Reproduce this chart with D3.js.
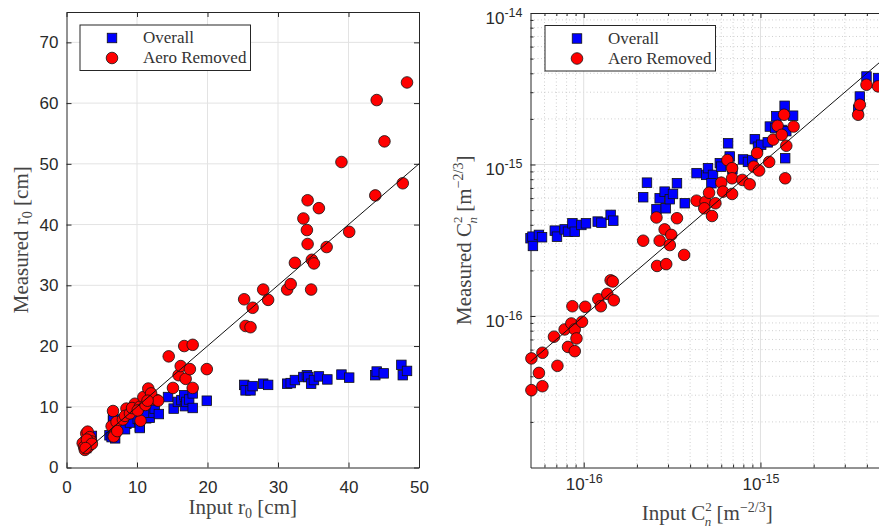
<!DOCTYPE html>
<meta charset="utf-8">
<style>
    body { margin: 0; background: #fff; }
    svg { display: block; }
    .tick text { font-family: "Liberation Sans", Arial, sans-serif; font-size: 17px; fill: #2a2a2a; }
    .domain { stroke: #262626; }
    .tick line { stroke: #262626; }
    .lbl { font-family: "Liberation Serif", "Times New Roman", serif; font-size: 21px; fill: #444; }
    .leg { font-family: "Liberation Serif", "Times New Roman", serif; font-size: 17px; fill: #333; }
</style>
<body>
<script src="https://cdnjs.cloudflare.com/ajax/libs/d3/7.8.5/d3.min.js"></script>
<script>
// ---- data ----
// left panel: Input r0 [cm] vs Measured r0 [cm]
var r0Overall = [
    [2.5,3.6],[2.7,4.2],[2.9,4.6],[3.1,4.0],[3.3,4.9],[3.5,4.4],[2.8,3.2],[3.6,5.2],
    [6.1,5.3],[6.4,5.0],[6.6,5.6],[6.9,4.8],[6.6,7.7],[6.6,8.1],[7.1,6.4],[7.6,7.9],[8.0,6.9],[8.5,7.2],[8.3,6.3],
    [9.4,7.9],[9.0,7.4],[10.1,8.0],[10.4,6.7],[10.4,6.5],[11.3,8.1],[11.8,8.2],[12.2,9.0],[12.5,9.7],[13.1,8.8],[11.0,9.0],
    [14.4,11.6],[15.2,9.7],[15.8,10.8],[16.3,11.1],[16.7,11.9],[16.8,10.1],[17.0,10.8],[17.4,11.2],[17.9,12.2],[17.9,9.8],[19.9,11.0],
    [25.2,13.6],[25.4,12.7],[26.1,12.7],[26.4,13.4],[27.9,13.8],[28.6,13.6],
    [31.3,13.8],[31.8,13.9],[32.4,14.4],[33.6,14.9],[34.1,15.2],[34.3,14.9],[34.7,13.8],[35.1,14.4],[35.8,15.0],[37.0,14.5],
    [39.0,15.3],[40.1,14.8],[43.8,15.2],[44.0,15.8],[45.0,15.5],[47.5,16.9],[47.7,15.2],[48.3,15.9]
];
var r0AeroRemoved = [
    [2.3,4.0],[2.5,3.4],[2.6,2.9],[2.8,5.6],[3.0,5.9],[3.1,3.4],[3.3,5.0],[3.5,4.3],[2.9,4.6],[3.6,3.9],[2.7,3.2],
    [6.4,6.8],[6.6,9.3],[6.9,5.6],[7.1,7.5],[6.7,5.1],[7.2,6.0],[8.0,7.9],[8.5,9.7],[8.3,8.5],[9.0,8.9],[9.7,10.5],[9.3,9.8],
    [10.4,10.0],[10.5,7.7],[10.9,11.6],[10.1,9.4],[11.2,10.3],[11.6,13.0],[12.2,11.2],[12.8,11.1],[12.0,12.2],[13.0,11.0],[11.5,11.0],
    [14.5,18.3],[15.1,13.1],[15.9,15.2],[16.2,16.7],[16.7,20.0],[16.9,14.6],[17.5,16.2],[17.9,20.2],[17.9,13.1],[19.9,16.2],
    [25.2,27.7],[25.4,23.3],[26.1,23.1],[26.4,26.3],[27.9,29.3],[28.6,27.6],
    [31.3,29.3],[31.8,30.2],[32.4,33.7],[33.6,41.0],[34.1,39.1],[34.2,36.8],[34.2,44.0],[34.7,29.3],[34.8,34.2],[35.1,33.6],[35.8,42.7],[36.9,36.3],
    [39.0,50.3],[40.1,38.8],[43.8,44.8],[44.0,60.5],[45.1,53.7],[47.7,46.8],[48.3,63.4]
];
var r0Line = [2.3, 50];
var r0Ticks = [0, 10, 20, 30, 40, 50];
var r0YTicks = [0, 10, 20, 30, 40, 50, 60, 70];

// right panel: Input Cn2 vs Measured Cn2 [m^-2/3]
var cnOverall = [
    [5.0e-17,3.26e-16],[5.13e-17,3.34e-16],[5.16e-17,2.9e-16],[5.58e-17,3.43e-16],[5.81e-17,3.31e-16],[6.86e-17,3.66e-16],
    [7.06e-17,3.34e-16],[7.8e-17,3.73e-16],[8.15e-17,3.6e-16],[8.63e-17,4.09e-16],[8.9e-17,3.6e-16],[9.7e-17,3.99e-16],
    [1.03e-16,4.09e-16],[1.2e-16,4.2e-16],[1.26e-16,4.13e-16],[1.42e-16,4.65e-16],[1.47e-16,4.26e-16],
    [2.17e-16,6.08e-16],[2.28e-16,7.59e-16],[2.58e-16,5.07e-16],[2.69e-16,5.98e-16],[2.87e-16,6.62e-16],[2.91e-16,5.14e-16],
    [3.07e-16,5.9e-16],[3.2e-16,6.39e-16],[3.37e-16,7.52e-16],[3.73e-16,5.55e-16],
    [4.35e-16,8.77e-16],[4.94e-16,8.54e-16],[5.05e-16,9.46e-16],[5.39e-16,8.54e-16],[5.28e-16,7.52e-16],[5.89e-16,1.02e-15],
    [6.0e-16,9.68e-16],[6.56e-16,1.38e-15],[6.7e-16,1.13e-15],[6.94e-16,9.3e-16],[7.97e-16,1.08e-15],[8.5e-16,1.04e-15],
    [9.0e-16,1.07e-15],[9.29e-16,1.47e-15],[9.69e-16,1.31e-15],[1.01e-15,1.35e-15],[1.1e-15,1.4e-15],[1.13e-15,1.78e-15],
    [1.21e-15,1.74e-15],[1.23e-15,2.08e-15],[1.32e-15,1.69e-15],[1.37e-15,2.44e-15],[1.38e-15,1.1e-15],[1.40e-15,1.66e-15],
    [1.53e-15,2.1e-15],
    [3.57e-15,2.3e-15],[3.65e-15,2.81e-15],[3.98e-15,3.81e-15],[4.63e-15,3.72e-15]
];
var cnAeroRemoved = [
    [5.06e-17,5.25e-17],[5.84e-17,5.72e-17],[5.58e-17,4.21e-17],[7.1e-17,4.69e-17],[5.06e-17,3.24e-17],[5.84e-17,3.44e-17],
    [6.79e-17,7.3e-17],[7.8e-17,8.15e-17],[8.63e-17,1.16e-16],[8.51e-17,8.93e-17],[8.9e-17,8.15e-17],[9.1e-17,7.11e-17],
    [8.15e-17,6.25e-17],[8.9e-17,5.86e-17],[9.78e-17,9.16e-17],[1.02e-16,1.15e-16],[1.21e-16,1.29e-16],[1.25e-16,1.16e-16],
    [1.36e-16,1.4e-16],[1.48e-16,1.27e-16],[1.42e-16,1.72e-16],[1.46e-16,1.69e-16],
    [2.17e-16,3.14e-16],[2.69e-16,3.14e-16],[2.6e-16,2.14e-16],[2.93e-16,2.2e-16],[2.58e-16,4.47e-16],[2.87e-16,3.73e-16],
    [3.13e-16,3.43e-16],[3.37e-16,4.42e-16],[3.07e-16,2.94e-16],[3.7e-16,2.53e-16],
    [4.35e-16,5.77e-16],[4.89e-16,5.68e-16],[4.81e-16,5.14e-16],[5.12e-16,6.51e-16],[5.32e-16,4.57e-16],[5.56e-16,5.55e-16],
    [6.0e-16,7.59e-16],[6.14e-16,6.62e-16],[6.5e-16,1.07e-15],[6.91e-16,9.46e-16],[6.91e-16,8.11e-16],[6.91e-16,6.39e-16],
    [7.9e-16,7.91e-16],[8.69e-16,7.41e-16],[9.16e-16,9.68e-16],[9.57e-16,1.19e-15],[9.82e-16,9.12e-16],[1.12e-15,1.04e-15],
    [1.18e-15,1.46e-15],[1.25e-15,1.8e-15],[1.32e-15,1.57e-15],[1.36e-15,2.13e-15],[1.4e-15,1.33e-15],[1.54e-15,1.78e-15],
    [1.38e-15,8.11e-16],
    [3.57e-15,2.13e-15],[3.65e-15,2.48e-15],[3.98e-15,3.36e-15],[4.63e-15,3.28e-15]
];
var cnLine = [5e-17, 5e-15];
var cnXTicks = [1e-16, 1e-15];
var cnYTicks = [1e-16, 1e-15, 1e-14];

var seriesNames = ["Overall", "Aero Removed"];

var width = 879, height = 529;
var svg = d3.select("body").append("svg")
    .attr("width", width)
    .attr("height", height);

var sq = 9.5, rad = 5.8;

function drawSquares(g, data, x, y) {
    g.selectAll("rect.pt").data(data).enter().append("rect")
        .attr("class", "pt")
        .attr("x", function(d) { return x(d[0]) - sq / 2; })
        .attr("y", function(d) { return y(d[1]) - sq / 2; })
        .attr("width", sq).attr("height", sq)
        .attr("fill", "#0000ff").attr("stroke", "#111").attr("stroke-width", 0.8);
}
function drawCircles(g, data, x, y) {
    g.selectAll("circle.pt").data(data).enter().append("circle")
        .attr("class", "pt")
        .attr("cx", function(d) { return x(d[0]); })
        .attr("cy", function(d) { return y(d[1]); })
        .attr("r", rad)
        .attr("fill", "#ff0000").attr("stroke", "#111").attr("stroke-width", 0.8);
}
function legend(g, x0, y0) {
    g.append("rect").attr("x", x0).attr("y", y0).attr("width", 170.5).attr("height", 45.5)
        .attr("fill", "#fff").attr("stroke", "#262626").attr("stroke-width", 1);
    g.append("rect").attr("x", x0 + 32 - sq / 2).attr("y", y0 + 13 - sq / 2)
        .attr("width", sq).attr("height", sq)
        .attr("fill", "#0000ff").attr("stroke", "#111").attr("stroke-width", 0.8);
    g.append("circle").attr("cx", x0 + 32).attr("cy", y0 + 33).attr("r", rad)
        .attr("fill", "#ff0000").attr("stroke", "#111").attr("stroke-width", 0.8);
    g.append("text").attr("class", "leg").attr("x", x0 + 63).attr("y", y0 + 18).text(seriesNames[0]);
    g.append("text").attr("class", "leg").attr("x", x0 + 63).attr("y", y0 + 38).text(seriesNames[1]);
}
// C_n^2 [m^-2/3] label with super/subscripts
function cnLabel(t, prefix) {
    t.append("tspan").text(prefix + "C");
    t.append("tspan").attr("dy", -9).attr("font-size", 13).text("2");
    t.append("tspan").attr("dx", -7).attr("dy", 15).attr("font-size", 13).attr("font-style", "italic").text("n");
    t.append("tspan").attr("dy", -6).text(" [m");
    t.append("tspan").attr("dy", -8).attr("font-size", 14).text("\u22122/3");
    t.append("tspan").attr("dy", 8).text("]");
}
function r0Label(t, prefix) {
    t.append("tspan").text(prefix + "r");
    t.append("tspan").attr("dy", 4).attr("font-size", 14).text("0");
    t.append("tspan").attr("dy", -4).text(" [cm]");
}

// ---------------- left panel ----------------
var xL = d3.scaleLinear().domain([0, 50]).range([66.5, 419]);
var yL = d3.scaleLinear().domain([0, 75]).range([467.5, 12]);
var left = svg.append("g");

left.append("g").selectAll("line").data(r0Ticks.slice(1, -1)).enter().append("line")
    .attr("x1", xL).attr("x2", xL).attr("y1", yL(0)).attr("y2", yL(75))
    .attr("stroke", "#e3e3e3");
left.append("g").selectAll("line").data(r0YTicks.slice(1)).enter().append("line")
    .attr("y1", yL).attr("y2", yL).attr("x1", xL(0)).attr("x2", xL(50))
    .attr("stroke", "#e3e3e3");

left.append("g").attr("transform", "translate(0," + yL(0) + ")")
    .call(d3.axisBottom(xL).tickValues(r0Ticks).tickSizeInner(-5).tickSizeOuter(0).tickPadding(13));
left.append("g").attr("transform", "translate(" + xL(0) + ",0)")
    .call(d3.axisLeft(yL).tickValues(r0YTicks).tickSizeInner(-5).tickSizeOuter(0).tickPadding(8));
left.append("g").attr("transform", "translate(0," + yL(75) + ")")
    .call(d3.axisTop(xL).tickValues(r0Ticks).tickSizeInner(-5).tickSizeOuter(0).tickFormat(""));
left.append("g").attr("transform", "translate(" + xL(50) + ",0)")
    .call(d3.axisRight(yL).tickValues(r0YTicks).tickSizeInner(-5).tickSizeOuter(0).tickFormat(""));

drawSquares(left.append("g"), r0Overall, xL, yL);
drawCircles(left.append("g"), r0AeroRemoved, xL, yL);
left.append("line")
    .attr("x1", xL(r0Line[0])).attr("y1", yL(r0Line[0]))
    .attr("x2", xL(r0Line[1])).attr("y2", yL(r0Line[1]))
    .attr("stroke", "#111").attr("stroke-width", 1);
legend(left, 80, 25);

r0Label(left.append("text").attr("class", "lbl").attr("text-anchor", "middle")
    .attr("x", (xL(0) + xL(50)) / 2).attr("y", 514), "Input ");
r0Label(left.append("text").attr("class", "lbl").attr("text-anchor", "middle")
    .attr("transform", "translate(28," + (yL(0) + yL(75)) / 2 + ") rotate(-90)"), "Measured ");

// ---------------- right panel ----------------
var xR = d3.scaleLog().domain([5e-17, 5e-15]).range([530.5, 884]);
var yR = d3.scaleLog().domain([1e-17, 1e-14]).range([467.5, 13]);
var right = svg.append("g");

function minorTicks(lo, hi) {
    var out = [];
    for (var e = -18; e <= -13; e++) {
        for (var m = 1; m < 10; m++) {
            var v = m * Math.pow(10, e);
            if (v > lo * 1.0001 && v < hi * 0.9999) out.push(v);
        }
    }
    return out;
}
var xMinor = minorTicks(5e-17, 5e-15).filter(function(v) { return cnXTicks.indexOf(v) < 0; });
var yMinor = minorTicks(1e-17, 1e-14).filter(function(v) { return cnYTicks.indexOf(v) < 0; });

right.append("g").selectAll("line").data(xMinor).enter().append("line")
    .attr("x1", xR).attr("x2", xR).attr("y1", yR(1e-17)).attr("y2", yR(1e-14))
    .attr("stroke", "#cfcfcf").attr("stroke-dasharray", "1,2.5");
right.append("g").selectAll("line").data(yMinor).enter().append("line")
    .attr("y1", yR).attr("y2", yR).attr("x1", xR(5e-17)).attr("x2", xR(5e-15))
    .attr("stroke", "#cfcfcf").attr("stroke-dasharray", "1,2.5");
right.append("g").selectAll("line").data(cnXTicks).enter().append("line")
    .attr("x1", xR).attr("x2", xR).attr("y1", yR(1e-17)).attr("y2", yR(1e-14))
    .attr("stroke", "#e0e0e0");
right.append("g").selectAll("line").data(cnYTicks.slice(0, -1)).enter().append("line")
    .attr("y1", yR).attr("y2", yR).attr("x1", xR(5e-17)).attr("x2", xR(5e-15))
    .attr("stroke", "#e0e0e0");

function powLabel(sel) {
    sel.each(function(d) {
        var t = d3.select(this);
        var e = Math.round(Math.log10(d));
        t.text("");
        t.append("tspan").text("10");
        t.append("tspan").attr("dy", -7).attr("font-size", 12.5).text(String(e));
    });
}
var xAx = right.append("g").attr("transform", "translate(0," + yR(1e-17) + ")")
    .call(d3.axisBottom(xR).tickValues(cnXTicks).tickSizeInner(-5).tickSizeOuter(0).tickPadding(10));
xAx.selectAll(".tick text").call(powLabel);
right.append("g").attr("transform", "translate(0," + yR(1e-17) + ")")
    .call(d3.axisBottom(xR).tickValues(xMinor).tickSizeInner(-3).tickSizeOuter(0).tickFormat(""))
    .select(".domain").remove();
var yAx = right.append("g").attr("transform", "translate(" + xR(5e-17) + ",0)")
    .call(d3.axisLeft(yR).tickValues(cnYTicks).tickSizeInner(-5).tickSizeOuter(0).tickPadding(8));
yAx.selectAll(".tick text").attr("dy", "0.6em").call(powLabel);
right.append("g").attr("transform", "translate(" + xR(5e-17) + ",0)")
    .call(d3.axisLeft(yR).tickValues(yMinor).tickSizeInner(-3).tickSizeOuter(0).tickFormat(""))
    .select(".domain").remove();
right.append("g").attr("transform", "translate(0," + yR(1e-14) + ")")
    .call(d3.axisTop(xR).tickValues(cnXTicks).tickSizeInner(-5).tickSizeOuter(0).tickFormat(""));
right.append("g").attr("transform", "translate(0," + yR(1e-14) + ")")
    .call(d3.axisTop(xR).tickValues(xMinor).tickSizeInner(-3).tickSizeOuter(0).tickFormat(""))
    .select(".domain").remove();

drawSquares(right.append("g"), cnOverall, xR, yR);
drawCircles(right.append("g"), cnAeroRemoved, xR, yR);
right.append("line")
    .attr("x1", xR(cnLine[0])).attr("y1", yR(cnLine[0]))
    .attr("x2", xR(cnLine[1])).attr("y2", yR(cnLine[1]))
    .attr("stroke", "#111").attr("stroke-width", 1);
legend(right, 545, 25.5);

cnLabel(right.append("text").attr("class", "lbl").attr("text-anchor", "middle")
    .attr("x", (xR(5e-17) + xR(5e-15)) / 2).attr("y", 520), "Input ");
cnLabel(right.append("text").attr("class", "lbl").attr("text-anchor", "middle")
    .attr("transform", "translate(471," + (yR(1e-17) + yR(1e-14)) / 2 + ") rotate(-90)"), "Measured ");
</script>
</body>
